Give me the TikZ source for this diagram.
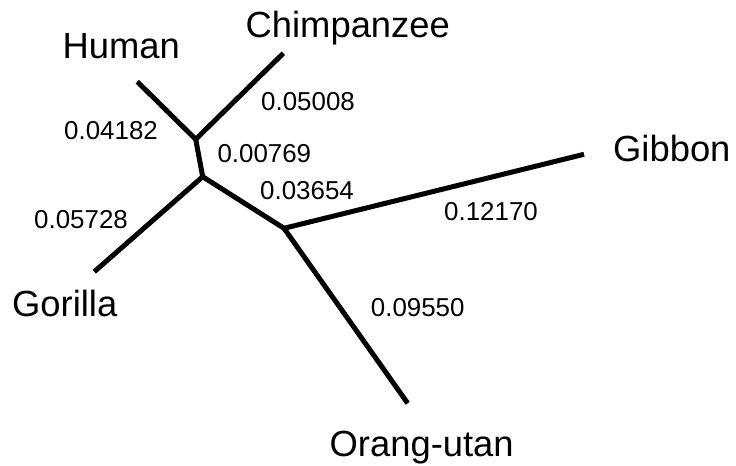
\documentclass[tikz,border=0pt]{standalone}
\usepackage{fontspec}
\setmainfont{Liberation Sans}
\begin{document}
\begin{tikzpicture}[x=1bp,y=-1bp,
  branch/.style={line width=5bp, line join=round},
  taxon/.style={anchor=base west, inner sep=0pt, font=\fontsize{36.5}{40}\selectfont},
  blen/.style={anchor=base west, inner sep=0pt, font=\fontsize{26}{28}\selectfont}]
\useasboundingbox (0,0) rectangle (736,466);
% tips and inner nodes of the unrooted tree
\coordinate (human) at (137.3,81.7);
\coordinate (chimp) at (283.3,53.3);
\coordinate (gorilla) at (94.3,271.7);
\coordinate (gibbon) at (584,154.3);
\coordinate (orang) at (407.7,403.3);
\coordinate (hc) at (195.7,139.3);
\coordinate (hcg) at (202.7,176.7);
\coordinate (root) at (284,228.3);
% branches
\draw[branch] (human) -- (hc) -- (chimp);
\draw[branch] (hc) -- (hcg);
\draw[branch] (gorilla) -- (hcg) -- (root);
\draw[branch] (gibbon) -- (root) -- (orang);
% taxon names
\node[taxon] (lhuman) at (62.5,58.5) {Human};
\node[taxon] (lchimp) at (245.5,37.5) {Chimpanzee};
\node[taxon] (lgibbon) at (613,161.7) {Gibbon};
\node[taxon] (lgorilla) at (12,316.7) {Gorilla};
\node[taxon] (lorang) at (329.5,456) {Orang-utan};
% branch lengths
\node[blen] (b1) at (261,110.7) {0.05008};
\node[blen] (b2) at (64,139.3) {0.04182};
\node[blen] (b3) at (217.3,162.7) {0.00769};
\node[blen] (b4) at (260,200) {0.03654};
\node[blen] (b5) at (34,228.3) {0.05728};
\node[blen] (b6) at (444,221) {0.12170};
\node[blen] (b7) at (370.7,316.7) {0.09550};
\end{tikzpicture}
\end{document}
